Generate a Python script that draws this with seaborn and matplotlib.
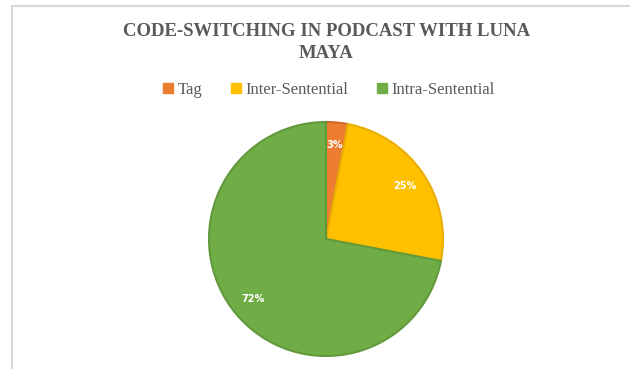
import matplotlib
matplotlib.use("Agg")
import matplotlib.pyplot as plt
import seaborn as sns
from matplotlib.patches import Patch

categories = ["Tag", "Inter-Sentential", "Intra-Sentential"]
shares = [3, 25, 72]
colors = ["#ED7D31", "#FFC000", "#70AD47"]
edges = ["#D06A25", "#E8AE00", "#62993C"]

sns.set_theme(style="white")
plt.rcParams["font.family"] = ["Liberation Serif", "DejaVu Serif"]

fig = plt.figure(figsize=(6.3, 3.69), dpi=100)
fig.patch.set_facecolor("white")

# light frame like the office chart area
fig.add_artist(plt.Line2D([12 / 630, 12 / 630], [0, 1 - 6 / 369],
                          transform=fig.transFigure, color="#D9D9D9", lw=1.5))
fig.add_artist(plt.Line2D([12 / 630, 1], [1 - 6 / 369, 1 - 6 / 369],
                          transform=fig.transFigure, color="#D9D9D9", lw=1.5))

ax = fig.add_axes([209 / 630, 13 / 369, 234 / 630, 234 / 369])
wedges, texts, autotexts = ax.pie(
    shares, colors=colors, startangle=90, counterclock=False,
    autopct="%1.0f%%", pctdistance=0.81,
    wedgeprops=dict(linewidth=1.5),
    textprops=dict(color="white", fontsize=7, fontweight="bold",
                   family=["DejaVu Sans"]),
)
for w, ec in zip(wedges, edges):
    w.set_edgecolor(ec)
    w.set_clip_on(False)
ax.set_xlim(-1, 1)
ax.set_ylim(-1, 1)
ax.set_aspect("equal")
ax.axis("off")

fig.text(0.518, 1 - 31 / 369, "CODE-SWITCHING IN PODCAST WITH LUNA",
         ha="center", va="center", fontsize=13.5, fontweight="bold", color="#595959")
fig.text(0.518, 1 - 53 / 369, "MAYA",
         ha="center", va="center", fontsize=13.5, fontweight="bold", color="#595959")

handles = [Patch(facecolor=c, edgecolor=c) for c in colors]
fig.legend(handles, categories, loc="center", bbox_to_anchor=(0.522, 1 - 90 / 369),
           ncol=3, frameon=False, fontsize=12, labelcolor="#595959",
           handlelength=0.6, handleheight=0.6, handletextpad=0.3, columnspacing=1.7)

fig.savefig("out.png", dpi=100)
